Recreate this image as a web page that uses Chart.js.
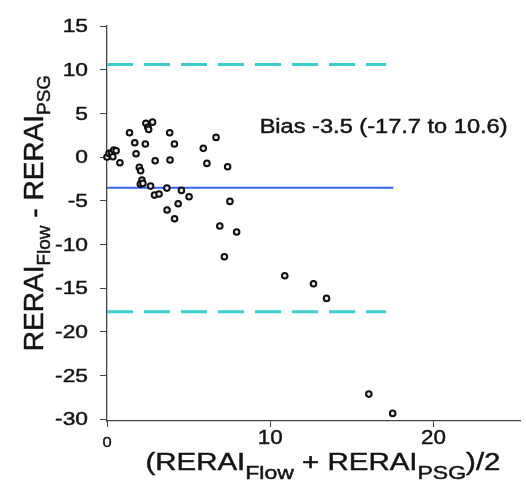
<!DOCTYPE html>
<html>
<head>
<meta charset="utf-8">
<script src="https://cdn.jsdelivr.net/npm/chart.js@4.4.1/dist/chart.umd.min.js"></script>
<style>
  html, body { margin: 0; padding: 0; background: #fff; }
</style>
</head>
<body>
<canvas id="chart" width="526" height="491"></canvas>
<script>
// Bland-Altman data: mean of both methods (x) and their difference (y)
const meanValues = [0.0, 0.12, 0.28, 0.42, 0.56, 0.36, 0.79, 1.38, 1.70, 1.78,
  1.98, 2.06, 2.14, 2.04, 2.20, 2.35, 2.38, 2.50, 2.55, 2.79,
  2.67, 2.95, 2.91, 3.19, 3.67, 3.84, 4.13, 3.86, 3.68, 4.14,
  4.36, 4.56, 5.03, 5.90, 6.68, 6.12, 7.39, 7.53, 6.91, 7.94,
  7.19, 10.89, 12.65, 13.45, 16.04, 17.50];
const diffValues = [0.0, 0.42, 0.49, 0.80, 0.72, 0.03, -0.65, 2.78, 1.64, 0.38,
  -1.18, -1.57, -2.63, -3.09, -3.01, 1.49, 3.86, 3.40, 3.17, 4.00,
  -3.32, -0.42, -4.35, -4.23, -3.55, 2.78, 1.49, -0.34, -6.06, -7.06,
  -5.34, -3.81, -4.54, 1.00, 2.25, -0.72, -1.11, -5.07, -7.89, -8.58,
  -11.41, -13.58, -14.50, -16.17, -27.12, -29.33];

const biasValue = -3.5;
const lowerLimit = -17.7;
const upperLimit = 10.6;
const biasLineSpan = [0, 17.55];
const limitLineSpan = [0, 17.1];

const xTickValues = [0, 10, 20];
const yTickValues = [-30, -25, -20, -15, -10, -5, 0, 5, 10, 15];
const biasText = "Bias -3.5 (-17.7 to 10.6)";
// [text, isSubscript]
const xTitleParts = [["(RERAI", false], ["Flow", true], [" + RERAI", false], ["PSG", true], [")/2", false]];
const yTitleParts = [["RERAI", false], ["Flow", true], [" - RERAI", false], ["PSG", true]];

const FONT = "'Liberation Sans', Arial, sans-serif";
const TEXT_COLOR = "#141414";
const AXIS_COLOR = "#444";

const points = meanValues.map((x, i) => ({ x: x, y: diffValues[i] }));

function hLine(y, span) {
    return [{ x: span[0], y: y }, { x: span[1], y: y }];
}

// fill + thin stroke so the text looks as heavy as the (blurred) original
function paintText(ctx, txt, x, y) {
    ctx.fillText(txt, x, y);
    ctx.strokeText(txt, x, y);
}

// draw a row of text parts (main + subscript), horizontally stretched by sx
function drawParts(ctx, parts, cx, baseline, mainSize, subSize, subDrop, sx) {
    let total = 0;
    const widths = parts.map(([txt, sub]) => {
        ctx.font = (sub ? subSize : mainSize) + "px " + FONT;
        const w = ctx.measureText(txt).width;
        total += w;
        return w;
    });
    ctx.save();
    ctx.translate(cx, baseline);
    ctx.scale(sx, 1);
    let x = -total / 2;
    ctx.textAlign = "left";
    ctx.textBaseline = "alphabetic";
    parts.forEach(([txt, sub], i) => {
        ctx.font = (sub ? subSize : mainSize) + "px " + FONT;
        paintText(ctx, txt, x, sub ? subDrop : 0);
        x += widths[i];
    });
    ctx.restore();
}

function drawStretched(ctx, txt, x, y, size, sx, align, baseline) {
    ctx.save();
    ctx.translate(x, y);
    ctx.scale(sx, 1);
    ctx.font = size + "px " + FONT;
    ctx.textAlign = align;
    ctx.textBaseline = baseline;
    paintText(ctx, txt, 0, 0);
    ctx.restore();
}

const textPlugin = {
    id: "textPlugin",
    afterDraw(chart) {
        const ctx = chart.ctx;
        const xs = chart.scales.x;
        const ys = chart.scales.y;
        ctx.save();
        ctx.fillStyle = TEXT_COLOR;
        ctx.strokeStyle = TEXT_COLOR;
        ctx.lineWidth = 0.45;

        // y tick labels
        yTickValues.forEach(v => {
            drawStretched(ctx, String(v), 88, ys.getPixelForValue(v) + 1, 19, 1.2, "right", "middle");
        });

        // x tick labels (the zero label is smaller in the original)
        xTickValues.forEach(v => {
            const px = xs.getPixelForValue(v);
            if (v === 0) {
                drawStretched(ctx, String(v), px, 443, 15, 1.1, "center", "middle");
            } else {
                drawStretched(ctx, String(v), px, 438, 20, 1.12, "center", "middle");
            }
        });

        // x title
        drawParts(ctx, xTitleParts, 323, 470, 23, 18, 9, 1.28);

        // y title, rotated
        ctx.save();
        ctx.translate(43, 213);
        ctx.rotate(-Math.PI / 2);
        drawParts(ctx, yTitleParts, 0, 0, 28, 19, 7, 1);
        ctx.restore();

        // bias annotation
        drawStretched(ctx, biasText, xs.getPixelForValue(9.35), ys.getPixelForValue(2.75), 20, 1.18, "left", "alphabetic");

        ctx.restore();
    }
};

const ctx = document.getElementById("chart").getContext("2d");

new Chart(ctx, {
    type: "scatter",
    data: {
        datasets: [
            {
                label: "Difference",
                data: points,
                pointRadius: 2.8,
                pointBorderWidth: 2,
                pointBorderColor: "#0e0e0e",
                pointBackgroundColor: "#e8e8e8",
                clip: false,
                order: 0
            },
            {
                type: "line",
                label: "Bias",
                data: hLine(biasValue, biasLineSpan),
                borderColor: "#3464f4",
                borderWidth: 2,
                pointRadius: 0,
                order: 1
            },
            {
                type: "line",
                label: "Upper limit",
                data: hLine(upperLimit, limitLineSpan),
                borderColor: "#3ccfcf",
                borderWidth: 3,
                borderDash: [26, 11],
                pointRadius: 0,
                order: 2
            },
            {
                type: "line",
                label: "Lower limit",
                data: hLine(lowerLimit, limitLineSpan),
                borderColor: "#3ccfcf",
                borderWidth: 3,
                borderDash: [26, 11],
                pointRadius: 0,
                order: 2
            }
        ]
    },
    options: {
        responsive: false,
        animation: false,
        devicePixelRatio: 1,
        layout: { padding: { top: 26, right: 0, left: 0, bottom: 0 } },
        plugins: {
            legend: { display: false },
            tooltip: { enabled: false }
        },
        scales: {
            x: {
                type: "linear",
                min: 0,
                max: 25.3,
                afterBuildTicks: s => { s.ticks = xTickValues.map(v => ({ value: v })); },
                afterFit: s => { s.height = 70; },
                ticks: { display: false },
                grid: { drawOnChartArea: false, drawTicks: true, tickLength: 6, color: AXIS_COLOR, lineWidth: 1 },
                border: { color: AXIS_COLOR, width: 1.3 }
            },
            y: {
                type: "linear",
                min: -30.2,
                max: 15,
                afterBuildTicks: s => { s.ticks = yTickValues.map(v => ({ value: v })); },
                afterFit: s => { s.width = 107; },
                ticks: { display: false },
                grid: { drawOnChartArea: false, drawTicks: true, tickLength: 7, color: AXIS_COLOR, lineWidth: 1 },
                border: { color: AXIS_COLOR, width: 1.3 }
            }
        }
    },
    plugins: [textPlugin]
});
</script>
</body>
</html>
